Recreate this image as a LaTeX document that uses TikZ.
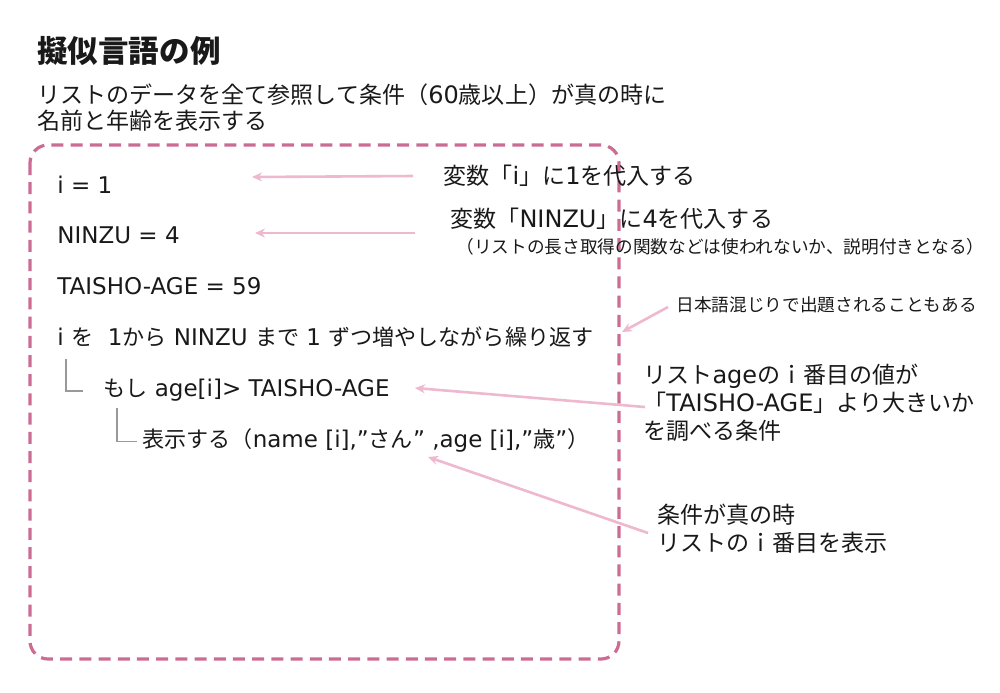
\documentclass[tikz,border=0pt]{standalone}
\usepackage{fontspec}
\usepackage{tikz}
\usetikzlibrary{arrows.meta, positioning}

\setmainfont{DejaVu Sans}
\newfontfamily\jpfont[Scale=0.96]{Noto Sans CJK JP}

% Japanese characters switch to the CJK font by themselves
\XeTeXinterchartokenstate=1
\newXeTeXintercharclass\jpclass
\newcount\jpcode
\newcommand\jprange[2]{\jpcode=#1 \loop\XeTeXcharclass\jpcode=\jpclass\ifnum\jpcode<#2 \advance\jpcode by 1 \repeat}
\jprange{"3000}{"30FF}
\jprange{"4E00}{"9FFF}
\jprange{"FF00}{"FFEF}
\XeTeXinterchartoks 0 \jpclass = {\begingroup\jpfont}
\XeTeXinterchartoks 4095 \jpclass = {\begingroup\jpfont}
\XeTeXinterchartoks \jpclass 0 = {\endgroup}
\XeTeXinterchartoks \jpclass 4095 = {\endgroup}

\definecolor{boxpink}{RGB}{204,108,148}
\definecolor{arrowpink}{RGB}{238,184,206}
\definecolor{textgray}{RGB}{25,25,25}

\begin{document}
\begin{tikzpicture}[
    x=0.5pt, y=-0.5pt,
    title/.style={anchor=west, inner sep=0pt, font=\fontsize{15.9}{18}\selectfont\bfseries},
    lead/.style={anchor=west, inner sep=0pt, align=left, font=\fontsize{12}{13}\selectfont},
    code/.style={inner sep=0pt, text height=8pt, text depth=2.5pt, font=\fontsize{11.5}{13}\selectfont},
    note/.style={anchor=west, inner sep=0pt, align=left, font=\fontsize{12}{14}\selectfont},
    smallnote/.style={anchor=west, inner sep=0pt, font=\fontsize{9.2}{10}\selectfont},
    dashbox/.style={draw=boxpink, line width=1.6pt, dash pattern=on 6pt off 3.6pt, rounded corners=9pt},
    branch/.style={draw=gray!80, line width=0.8pt},
    pointer/.style={draw=arrowpink, line width=1.3pt, -{Stealth[length=5pt, width=4.5pt]}},
    every node/.style={text=textgray}
]
\useasboundingbox (0,0) rectangle (1000,692);

% Heading
\node[title] (head) at (37,51) {擬似言語の例};
\node[lead] (lead) at (37,108) {リストのデータを全て参照して条件（60歳以上）が真の時に\\名前と年齢を表示する};

% Pseudo code
\draw[dashbox] (30,145) rectangle (619,659);
\node[code, anchor=west] (seti) at (57,187.5) {i = 1};
\node[code, below=14.5pt of seti.south west, anchor=north west] (setn) {NINZU = 4};
\node[code, below=14.5pt of setn.south west, anchor=north west] (seta) {TAISHO-AGE = 59};
\node[code, below=14.5pt of seta.south west, anchor=north west] (loop) {i を\ \ 1から NINZU まで 1 ずつ増やしながら繰り返す};
\node[code, below=14.5pt of loop.south west, anchor=north west, xshift=23pt] (cond) {もし age[i]> TAISHO-AGE};
\node[code, below=14.5pt of cond.south west, anchor=north west, xshift=19.5pt] (show) {表示する（name [i],”さん” ,age [i],”歳”）};
\draw[branch] ([xshift=4.5pt,yshift=-4pt]loop.south west) |- ([xshift=-10pt]cond.west);
\draw[branch] ([xshift=7pt,yshift=-3pt]cond.south west) |- ([xshift=-2.5pt]show.west);

% Comments on the right
\node[note] (onei) at (443,176) {変数「i」に1を代入する};
\node[note, font=\fontsize{12}{10}\selectfont] (fourn) at (450,232) {変数「NINZU」に4を代入する\\[3pt]{\fontsize{9.2}{10}\selectfont\hspace{3pt}（リストの長さ取得の関数などは使われないか、説明付きとなる）}};
\node[smallnote] (mixed) at (676,305) {日本語混じりで出題されることもある};
\node[note] (compare) at (643,403) {リストageのｉ番目の値が\\「TAISHO-AGE」より大きいか\\を調べる条件};
\node[note] (truth) at (657,529) {条件が真の時\\リストのｉ番目を表示};

% Arrows
\coordinate (tipi) at (252,177);
\coordinate (tipn) at (255,233);
\coordinate (tipm) at (622,332);
\coordinate (tipc) at (415,388);
\coordinate (tips) at (428,457);
\draw[pointer] ([xshift=-15pt]onei.west) -- (tipi);
\draw[pointer] ([xshift=-17.5pt]fourn.west |- tipn) -- (tipn);
\draw[pointer] ([xshift=-4pt,yshift=-1pt]mixed.west) -- (tipm);
\draw[pointer] ([xshift=1pt,yshift=-2pt]compare.west) -- (tipc);
\draw[pointer] ([xshift=-4.5pt,yshift=-2pt]truth.west) -- (tips);

\end{tikzpicture}
\end{document}
